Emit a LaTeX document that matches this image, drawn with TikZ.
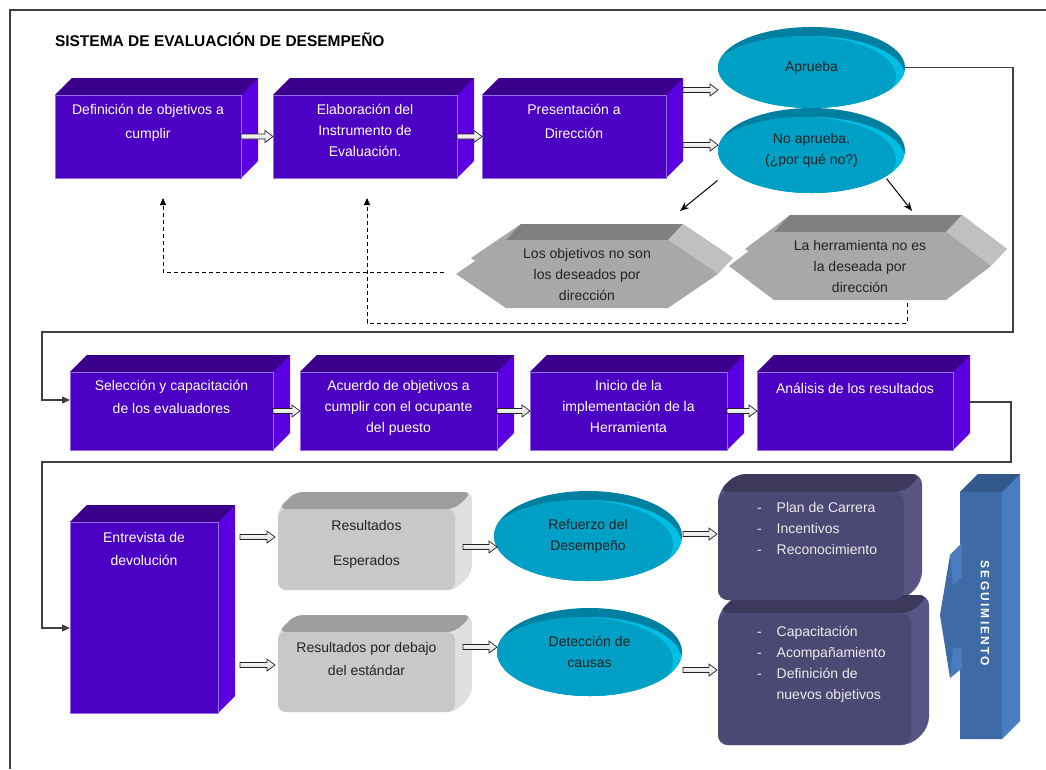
\documentclass[tikz,border=0pt]{standalone}
\usepackage{fontspec}
\setmainfont{Liberation Sans}
\usetikzlibrary{arrows.meta,positioning,shapes.geometric,calc,backgrounds}
\definecolor{evPurple} {RGB}{ 76,  0,196}
\definecolor{evPurpleD}{RGB}{ 58,  0,140}
\definecolor{evPurpleL}{RGB}{ 92,  0,228}
\definecolor{evPurpleE}{RGB}{150,110,235}
\definecolor{evTeal}   {RGB}{  0,160,198}
\definecolor{evTealD}  {RGB}{  0,128,160}
\definecolor{evTealL}  {RGB}{  0,190,228}
\definecolor{evHexF}   {RGB}{168,168,168}
\definecolor{evHexT}   {RGB}{128,128,128}
\definecolor{evHexS}   {RGB}{192,192,192}
\definecolor{evGrey}   {RGB}{200,200,200}
\definecolor{evGreyD}  {RGB}{158,158,158}
\definecolor{evGreyL}  {RGB}{224,224,224}
\definecolor{evSlate}  {RGB}{ 76, 72,116}
\definecolor{evSlateD} {RGB}{ 60, 57, 92}
\definecolor{evSlateL} {RGB}{ 88, 85,132}
\definecolor{evBlue}   {RGB}{ 62,106,166}
\definecolor{evBlueD}  {RGB}{ 50, 88,140}
\definecolor{evBlueL}  {RGB}{ 74,124,192}
\definecolor{evInk}    {RGB}{ 35, 35, 35}
\definecolor{evFrame}  {RGB}{ 64, 64, 64}

\newcommand\extrude[5][]{%
  \fill[#5,#1] (#2.north west) -- ($(#2.north west)+(#3,-#3)$) -- ($(#2.north east)+(#3,-#3)$)
    -- ($(#2.south east)+(#3,-#3)$) -- (#2.south east) -- (#2.south west) -- cycle;
  \fill[#4,#1] (#2.north west) -- ($(#2.north west)+(#3,-#3)$) -- ($(#2.north east)+(#3,-#3)$) -- (#2.north east) -- cycle;}
\newcommand\hexprism[4]{%
  \fill[evHexF] ($(#1.west)+(#3,-#4)$) -- ($(#1.north west)+(#2+#3,-#4)$) -- ($(#1.north east)+(#3-#2,-#4)$)
    -- ($(#1.east)+(#3,-#4)$) -- ($(#1.south east)+(#3-#2,-#4)$) -- ($(#1.south west)+(#2+#3,-#4)$) -- cycle;
  \fill[evHexT] ($(#1.north west)+(#2,0)$) -- ($(#1.north west)+(#2+#3,-#4)$) -- ($(#1.north east)+(#3-#2,-#4)$) -- ($(#1.north east)+(-#2,0)$) -- cycle;
  \fill[evHexS] ($(#1.north east)+(-#2,0)$) -- ($(#1.north east)+(#3-#2,-#4)$) -- ($(#1.east)+(#3,-#4)$) -- (#1.east) -- cycle;
  \fill[evHexF] (#1.west) -- ($(#1.north west)+(#2,0)$) -- ($(#1.north east)+(-#2,0)$) -- (#1.east)
    -- ($(#1.south east)+(-#2,0)$) -- ($(#1.south west)+(#2,0)$) -- cycle;}

\begin{document}
\begin{tikzpicture}[x=1pt,y=-1pt,
  every node/.style={font=\fontsize{14}{21}\selectfont,inner sep=0pt,outer sep=0pt},
  title/.style={anchor=west,font=\bfseries\fontsize{15.5}{18}\selectfont},
  cube/.style={draw=evPurpleE,line width=.5pt,fill=evPurple},
  greybox/.style={fill=evGrey,rounded corners=8pt},
  slatebox/.style={fill=evSlate,rounded corners=10pt},
  segbox/.style={fill=evBlue},
  cubetxt/.style={text=white,align=center,anchor=north},
  inktxt/.style={text=evInk,align=center},
  disc/.style={ellipse,fill=evTealD,text=evInk,align=center,
    path picture={
      \fill[evTealL] let \p1=($(path picture bounding box.north east)-(path picture bounding box.center)$) in
        ($(path picture bounding box.center)+(0,9)$) ellipse [x radius=\x1,y radius=\y1];
      \fill[evTeal] let \p1=($(path picture bounding box.north east)-(path picture bounding box.center)$) in
        ($(path picture bounding box.center)+(-9,9)$) ellipse [x radius=\x1,y radius=\y1];}},
  hollow/.style={draw=evInk,line width=.7pt,top color=white,bottom color=black!15,
    to path={let \p1=(\tikztostart),\p2=(\tikztotarget) in
      (\x1,\y1+2.5pt) -- (\x2-8pt,\y1+2.5pt) -- (\x2-8pt,\y1+6pt) -- (\x2,\y1)
      -- (\x2-8pt,\y1-6pt) -- (\x2-8pt,\y1-2.5pt) -- (\x1,\y1-2.5pt) -- cycle}},
  loopline/.style={draw=evFrame,line width=1.2pt,-{Triangle[length=8pt,width=7pt]}},
  feedback/.style={draw=black,line width=.9pt,dash pattern=on 4pt off 3pt,-{Triangle[length=7pt,width=6pt]}},
  pointer/.style={draw=black,line width=1pt,-{Stealth[length=9pt,width=7pt]}}
]
\useasboundingbox (0,0) rectangle (1046,769);
\draw[evFrame,line width=1.5pt] (10,769) -- (10,10) -- (1046,10);
\node[title] (title) at (55,40) {SISTEMA DE EVALUACIÓN DE DESEMPEÑO};

\node[cube,minimum width=186pt,minimum height=83pt] (def)  at (148,136.5) {};
\node[cube,minimum width=184pt,minimum height=83pt] (elab) at (365,136.5) {};
\node[cube,minimum width=184pt,minimum height=83pt] (pres) at (574,136.5) {};
\node[cubetxt] (defT)  at ($(def.north)+(0,9)$)  {Definición de objetivos a\\[3pt]cumplir};
\node[cubetxt] (elabT) at ($(elab.north)+(0,9)$) {Elaboración del\\Instrumento de\\Evaluación.};
\node[cubetxt] (presT) at ($(pres.north)+(0,9)$) {Presentación a\\[3pt]Dirección};

\node[disc,minimum width=187pt,minimum height=81pt] (apr)  at (811.5,67.5)  {Aprueba};
\node[disc,minimum width=187pt,minimum height=85pt] (noap) at (811.5,150.5) {No aprueba,\\(¿por qué no?)};

\node[inktxt,minimum width=262pt,minimum height=68pt] (hexA) at (587,274) {Los objetivos no son\\los deseados por\\dirección};
\node[inktxt,minimum width=262pt,minimum height=68pt] (hexB) at (860,266) {La herramienta no es\\la deseada por\\dirección};

\node[cube,minimum width=203pt,minimum height=78pt] (sel) at (171.5,411) {};
\node[cube,minimum width=197pt,minimum height=78pt] (acu) at (398.5,411) {};
\node[cube,minimum width=197pt,minimum height=78pt] (ini) at (628.5,411) {};
\node[cube,minimum width=196pt,minimum height=78pt] (ana) at (855,411)   {};
\node[cubetxt] (selT) at ($(sel.north)+(0,8)$) {Selección y capacitación\\[2pt]de los evaluadores};
\node[cubetxt] (acuT) at ($(acu.north)+(0,8)$) {Acuerdo de objetivos a\\cumplir con el ocupante\\del puesto};
\node[cubetxt] (iniT) at ($(ini.north)+(0,8)$) {Inicio de la\\implementación de la\\Herramienta};
\node[cubetxt] (anaT) at ($(ana.north)+(0,11)$) {Análisis de los resultados};

\node[cube,minimum width=148pt,minimum height=191pt] (ent) at (144,617.5) {};
\node[cubetxt] (entT) at ($(ent.north)+(0,10)$) {Entrevista de\\[2pt]devolución};
\node[greybox,minimum width=177pt,minimum height=81pt] (resE) at (366.5,549.5) {};
\node[greybox,minimum width=177pt,minimum height=80pt] (resD) at (366.5,672)   {};
\node[inktxt,anchor=north] (resET) at ($(resE.north)+(0,11)$) {Resultados\\[14pt]Esperados};
\node[inktxt,anchor=north] (resDT) at ($(resD.north)+(0,10)$) {Resultados por debajo\\[2pt]del estándar};
\node[disc,minimum width=188pt,minimum height=90pt] (ref) at (588,536)   {Refuerzo del\\Desempeño};
\node[disc,minimum width=185pt,minimum height=88pt] (det) at (589.5,652) {Detección de\\causas};
\node[slatebox,minimum width=186pt,minimum height=108pt] (plan) at (811,546)   {};
\node[slatebox,minimum width=193pt,minimum height=132pt] (capa) at (814.5,679) {};
\node[text=white!92!black,anchor=base west] (planT) at ($(plan.north west)+(39,20)$)
  {\begin{tabular}[t]{@{}l@{\hspace{15pt}}l@{}}-&Plan de Carrera\\-&Incentivos\\-&Reconocimiento\end{tabular}};
\node[text=white!92!black,anchor=base west] (capaT) at ($(capa.north west)+(39,23)$)
  {\begin{tabular}[t]{@{}l@{\hspace{15pt}}l@{}}-&Capacitación\\-&Acompañamiento\\-&Definición de\\&nuevos objetivos\end{tabular}};
\node[segbox,minimum width=42pt,minimum height=247pt] (seg) at (981,615.5) {};
\node[text=white,rotate=-90,font=\bfseries\fontsize{12}{14}\selectfont\addfontfeature{LetterSpace=18}] (segT)
  at ($(seg.center)+(4,-2)$) {SEGUIMIENTO};
\fill[evBlue] (962,543) -- (950,555) -- (940,615) -- (950,678) -- (962,668) -- cycle;
\fill[evBlueL] (962,543) -- (950,555) -- (953,585) -- (962,577) -- cycle;
\fill[evBlueL] (962,648) -- (953,648) -- (950,678) -- (962,668) -- cycle;

\begin{scope}[on background layer]
  \foreach \n in {def,elab,pres,sel,acu,ini,ana,ent}
    \extrude{\n}{17}{evPurpleD}{evPurpleL};
  \foreach \n in {resE,resD}
    \extrude[rounded corners=8pt]{\n}{17}{evGreyD}{evGreyL};
  \foreach \n in {plan,capa}
    \extrude[rounded corners=10pt]{\n}{18}{evSlateD}{evSlateL};
  \extrude{seg}{18}{evBlueD}{evBlueL};
  \hexprism{hexA}{50}{15}{16};
  \hexprism{hexB}{45}{16}{17};
\end{scope}

\draw[hollow] (def.east) to (elab.west);
\draw[hollow] (elab.east) to (pres.west);
\draw[hollow] ($(pres.east)+(17,-46.5)$) to ($(apr.west)+(0,22.5)$);
\draw[hollow] ($(pres.east)+(17,8.5)$) to ($(noap.west)+(0,-5.5)$);
\draw[pointer] ($(noap.center)+(-94,30)$) -- ($(hexA.north east)+(-38,-29)$);
\draw[pointer] ($(noap.center)+(75,28)$) -- ($(hexB.north east)+(-79,-21)$);
\draw[feedback] ($(hexA.west)+(-12,-2)$) -| ($(def.south)+(15,20)$);
\draw[feedback] ($(hexB.south)+(47,3)$) |- ($(elab.south)+(2,145)$) -- ($(elab.south)+(2,20)$);
\draw[loopline] (apr.east) -- ++(108,0) |- ($(sel.west)+(-28,-79)$) |- ($(sel.west)+(0,-11)$);

\draw[hollow] (sel.east) to (acu.west);
\draw[hollow] (acu.east) to (ini.west);
\draw[hollow] (ini.east) to (ana.west);
\draw[loopline] ($(ana.east)+(17,-9)$) -- ++(41,0) |- ($(ent.west)+(-28,-155.5)$) |- ($(ent.west)+(0,10.5)$);

\draw[hollow] ($(ent.east)+(22,-80.5)$) to ($(resE.west)+(-3,-12.5)$);
\draw[hollow] ($(ent.east)+(22,47.5)$) to ($(resD.west)+(-3,-7)$);
\draw[hollow] ($(resE.east)+(8,-2.5)$) to ($(ref.west)+(3,11)$);
\draw[hollow] ($(resD.east)+(8,-25)$) to ($(det.west)+(0,-5)$);
\draw[hollow] ($(ref.east)+(1,-2)$) to ($(plan.west)+(-1,-12)$);
\draw[hollow] ($(det.east)+(1,18)$) to ($(capa.west)+(-1,-9)$);
\end{tikzpicture}
\end{document}
